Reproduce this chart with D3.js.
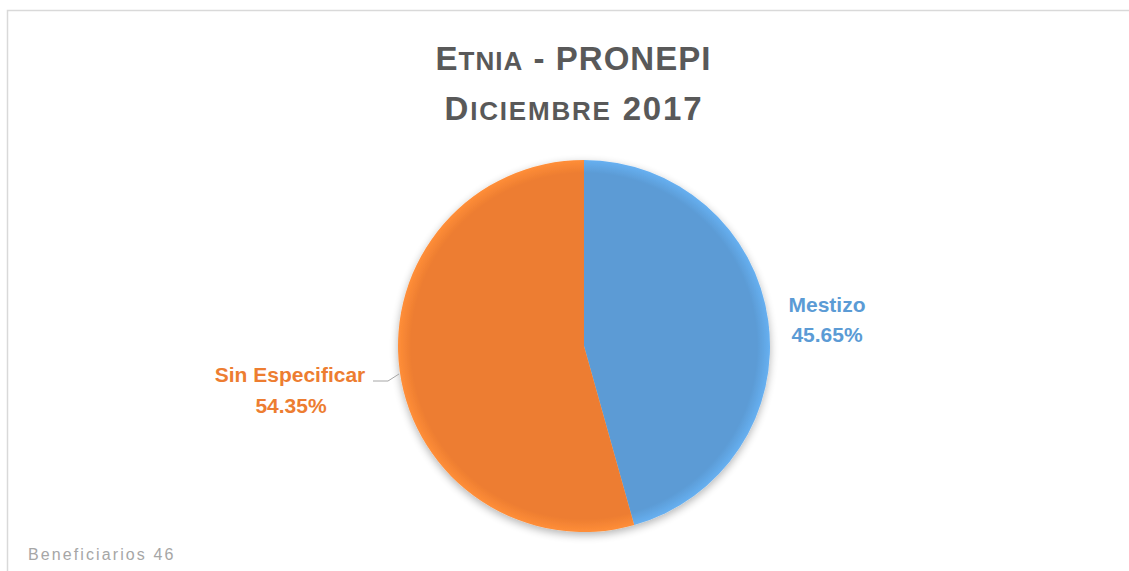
<!DOCTYPE html>
<html><head><meta charset="utf-8">
<script src="https://cdn.jsdelivr.net/npm/d3@7"></script>
<style>
html,body{margin:0;padding:0;background:#fff;}
svg{display:block;}
</style></head>
<body>
<script>
const categories = ["Mestizo", "Sin Especificar"];
const values = [45.65, 54.35];
const colors = ["#5B9BD5", "#ED7D31"];
const titleLines = ["Etnia - PRONEPI", "Diciembre 2017"];
const footer = "Beneficiarios 46";

const W = 1129, H = 571;
const svg = d3.select("body").append("svg").attr("width", W).attr("height", H);

svg.append("rect").attr("x", 7.5).attr("y", 10.5).attr("width", W + 10).attr("height", H + 10)
  .attr("fill", "#fff").attr("stroke", "#d9d9d9").attr("stroke-width", 1.5);

const defs = svg.append("defs");
colors.forEach((c, i) => {
  const g = defs.append("radialGradient").attr("id", "g" + i)
    .attr("gradientUnits", "userSpaceOnUse").attr("cx", 0).attr("cy", 0).attr("r", 186);
  g.append("stop").attr("offset", "0.93").attr("stop-color", c);
  g.append("stop").attr("offset", "1").attr("stop-color", d3.color(c).brighter(0.35));
});
const f = defs.append("filter").attr("id", "sh").attr("x", "-20%").attr("y", "-20%").attr("width", "140%").attr("height", "140%");
f.append("feGaussianBlur").attr("in", "SourceAlpha").attr("stdDeviation", 4);
f.append("feOffset").attr("dx", 0).attr("dy", 3).attr("result", "b");
f.append("feComponentTransfer").append("feFuncA").attr("type", "linear").attr("slope", 0.3);
const m = f.append("feMerge");
m.append("feMergeNode");
m.append("feMergeNode").attr("in", "SourceGraphic");

const cx = 584, cy = 346, R = 186;
const pie = d3.pie().sort(null).value(d => d)(values);
const arc = d3.arc().innerRadius(0).outerRadius(R);
const gp = svg.append("g").attr("transform", `translate(${cx},${cy})`).attr("filter", "url(#sh)");
gp.selectAll("path").data(pie).join("path")
  .attr("d", arc).attr("fill", (d, i) => `url(#g${i})`);

// Title with manual small caps
function smallCaps(sel, str, big, small) {
  const parts = [];
  for (const ch of str) {
    const isLower = ch !== ch.toUpperCase();
    const sz = isLower ? small : big;
    const up = ch.toUpperCase();
    if (parts.length && parts[parts.length - 1].sz === sz) parts[parts.length - 1].t += up;
    else parts.push({ t: up, sz });
  }
  parts.forEach(p => sel.append("tspan").attr("font-size", p.sz).text(p.t));
}
const tg = svg.append("g").attr("font-family", "Liberation Sans, Arial, sans-serif")
  .attr("font-weight", "bold").attr("fill", "#595959").attr("text-anchor", "middle");
const t1 = tg.append("text").attr("x", 573).attr("y", 70).attr("textLength", 275).attr("lengthAdjust", "spacing");
smallCaps(t1, titleLines[0], 33, 26);
const t2 = tg.append("text").attr("x", 573).attr("y", 120).attr("textLength", 257).attr("lengthAdjust", "spacing");
smallCaps(t2, titleLines[1], 33, 26);

// Labels
const lab = svg.append("g").attr("font-family", "Liberation Sans, Arial, sans-serif")
  .attr("font-weight", "bold").attr("font-size", 21);
lab.append("text").attr("x", 827).attr("y", 312).attr("text-anchor", "middle").attr("fill", colors[0]).text(categories[0]);
lab.append("text").attr("x", 827).attr("y", 342).attr("text-anchor", "middle").attr("fill", colors[0]).text(values[0].toFixed(2) + "%");
lab.append("text").attr("x", 290).attr("y", 382).attr("text-anchor", "middle").attr("fill", colors[1]).text(categories[1]);
lab.append("text").attr("x", 291).attr("y", 413).attr("text-anchor", "middle").attr("fill", colors[1]).text(values[1].toFixed(2) + "%");

svg.append("polyline").attr("points", "373,381 388,381 399,374")
  .attr("fill", "none").attr("stroke", "#a6a6a6").attr("stroke-width", 1);

svg.append("text").attr("x", 28).attr("y", 560).attr("font-family", "Liberation Sans, Arial, sans-serif")
  .attr("font-size", 16).attr("fill", "#a6a6a6").style("letter-spacing", "2.1px").text(footer);
</script>
</body></html>
